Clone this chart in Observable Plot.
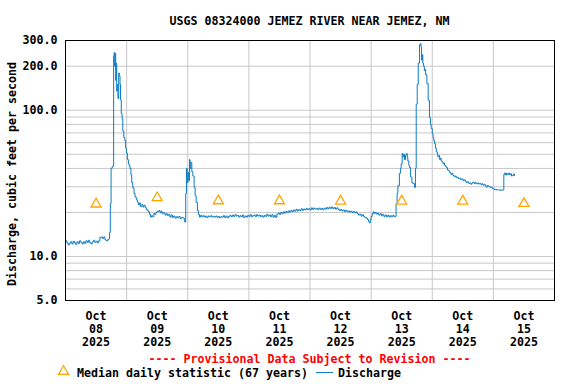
<!DOCTYPE html>
<html><head><meta charset="utf-8">
<script src="https://cdn.jsdelivr.net/npm/d3@7"></script>
<script src="https://cdn.jsdelivr.net/npm/@observablehq/plot@0.6"></script>
<style>
html,body{margin:0;padding:0;background:#fff;}
#chart svg{display:block;}
</style></head>
<body><div id="chart"></div>
<script>
// ---------- data ----------
const title = "USGS 08324000 JEMEZ RIVER NEAR JEMEZ, NM";
const yLabel = "Discharge, cubic feet per second";
const provisional = "---- Provisional Data Subject to Revision ----";
const legendMedian = "Median daily statistic (67 years)";
const legendFlow = "Discharge";
const monthLabel = "Oct";
const yearLabel = "2025";
const dayLabels = ["08", "09", "10", "11", "12", "13", "14", "15"];
const medianValues = [22.8, 25.2, 24.0, 24.0, 23.9, 23.9, 23.9, 23.0];
const yTicks = [5, 10, 100, 200, 300];
const yGrid = [6, 7, 8, 9, 10, 20, 30, 40, 50, 60, 70, 80, 90, 100, 200];

// hours since 2025-10-08 00:00, discharge in cfs
const hours = [
  0,0.5,1,1.5,2,2.5,3,3.5,4,4.5,5,5.5,6,6.5,7,7.5,8,8.5,9,9.5,10,10.5,11,11.5,12,12.5,13,13.5,14,14.5,15,15.5,16,16.5,17,
  17.3,17.6,17.9,18.3,18.7,18.9,19.1,19.3,19.5,19.7,19.9,20.1,20.3,20.6,20.9,21.1,21.4,21.6,
  21.9,22.2,22.5,22.9,23.3,23.6,23.9,24.3,24.7,25.0,25.3,25.7,26.0,26.4,26.9,27.3,27.8,28.2,28.6,29.0,29.5,30.0,30.4,30.8,31.3,31.7,32.1,32.5,33.0,33.4,33.8,34.2,34.7,35.1,35.5,35.9,36.3,36.7,37.1,37.5,37.9,38.3,38.7,39.1,39.5,40.0,40.5,
  41.0,41.5,42.0,42.5,43.0,43.5,44.0,44.5,45.0,45.5,46.0,46.5,46.8,
  47.2,47.5,47.8,48.1,48.4,48.7,48.9,49.2,49.6,50.0,50.5,50.9,51.3,51.8,
  52.2,52.6,53,53.5,54,54.5,55,55.5,56,56.5,57,57.5,58,58.5,59,59.5,60,60.5,61,61.5,62,62.5,63,63.5,64,64.5,65,65.5,66,66.5,67,67.5,68,68.5,69,69.5,70,70.5,71,71.5,72,72.5,73,73.5,74,74.5,75,75.5,76,76.5,77,77.5,78,78.5,79,79.5,80,80.5,
  81,81.5,82,82.5,83,83.5,84,84.5,85,85.5,86,86.5,87,87.5,88,88.5,89,89.5,90,90.5,91,91.5,92,92.5,93,93.5,94,94.5,95,95.5,96,96.5,97,97.5,98,98.5,99,99.5,100,100.5,101,101.5,102,102.5,103,103.5,104,104.5,105,105.5,106,106.5,107,107.5,108,108.5,109,109.5,110,110.5,111,111.5,112,112.5,113,113.5,114,114.5,115,115.5,116,116.5,117,117.5,118,118.5,119,119.3,119.7,120,120.4,120.8,121.2,121.6,122,122.5,123,123.5,124,124.5,125,125.5,126,126.5,127,127.5,128,128.5,129,129.5,
  129.8,130.2,130.5,131.1,131.5,131.8,132.2,132.5,132.8,133.1,133.5,133.8,134.2,134.4,134.8,135.1,135.5,136.0,136.4,137.0,137.4,137.7,138.1,138.5,139.0,139.3,139.6,139.8,140.1,140.3,140.6,140.9,141.2,141.4,141.9,142.4,142.9,143.3,143.6,144.0,144.3,144.6,144.9,145.3,145.6,146.0,146.2,146.6,146.9,147.2,147.5,147.9,148.2,148.5,148.8,149.2,149.5,150.0,150.4,150.8,151.3,151.7,152.1,152.6,153.0,153.4,153.9,154.3,154.7,155.2,155.6,156.1,156.5,157.0,157.4,157.8,158.3,158.7,159.2,159.6,160.0,160.5,160.9,161.3,161.8,162.2,162.6,163.1,163.5,163.9,164.4,164.8,165.2,165.6,166.0,166.4,166.8,167.2,167.6,168.0,168.4,168.8,169.2,169.6,170.0,170.4,170.8,171.2,171.6,171.9,
  172.1,172.4,172.8,173.1,173.5,173.9,174.3,174.7,175.1,175.5,175.9,176.3
];
const cfs = [
  12.8,12.4,12.0,12.3,12.6,12.2,12.7,12.4,12.1,12.6,12.3,12.8,12.5,12.2,12.6,12.3,12.8,12.5,12.9,12.4,12.2,12.6,12.9,12.5,12.7,12.4,12.8,13.5,13.6,13.3,13.6,13.0,12.8,13.0,13.2,
  14.6,23,40,41,42,235,248,200,245,160,210,135,150,120,180,172,150,118,
  95,88,72,65,62,55,51,46,43,42,40,36,32,29.5,27,25.5,24.5,23.5,22.5,23.2,22.0,22.6,21.8,22.4,21.6,21.0,20.6,20.2,19.4,18.6,19.0,18.7,19.7,19.4,20.0,20.4,20.2,20.6,20.0,20.4,19.6,20.0,19.8,19.2,19.6,19.0,19.4,
  18.6,19.2,18.5,18.9,18.3,18.7,18.4,18.8,18.2,18.5,18.4,18.2,17.2,
  27.0,40.0,32.0,37.5,33.0,46.0,40.0,44.0,38.0,35.5,29.7,26.0,23.4,20.6,
  19.4,18.6,19.1,18.7,19.0,18.6,18.9,18.5,18.9,18.7,19.0,18.6,18.8,18.6,18.9,18.5,18.8,18.4,18.7,18.6,19.0,18.5,18.9,18.4,18.8,19.1,18.7,19.2,18.8,19.3,18.9,19.1,18.6,19.0,18.7,19.2,18.5,18.9,18.6,19.1,18.8,19.3,18.7,19.0,19.2,18.8,19.3,18.9,19.2,18.7,19.0,18.6,19.1,18.8,19.4,18.9,19.2,18.7,
  19.3,18.6,19.1,18.5,19.5,19.8,19.4,20.0,19.6,20.2,19.8,20.3,20.0,20.5,20.1,20.6,20.3,20.8,20.4,21.0,20.5,20.9,20.6,21.2,20.7,21.1,20.8,21.3,20.9,21.2,20.8,21.5,21.0,21.4,21.1,21.3,20.9,21.4,21.0,21.3,20.9,21.4,21.1,21.6,21.2,21.7,21.3,21.8,21.2,21.6,21.1,21.5,21.0,20.6,21.0,20.5,20.8,20.3,20.7,20.2,20.5,20.1,20.4,20.0,20.3,19.9,20.2,19.6,19.2,19.5,18.9,19.3,18.8,18.5,18.3,17.9,17.3,17.0,17.8,18.8,19.6,20.2,19.7,20.0,19.5,19.8,19.2,19.6,19.0,19.4,18.8,19.2,18.7,19.1,18.6,19.0,18.7,19.1,18.7,18.8,
  23.0,27.0,30.5,37.0,40.0,43.0,50.6,48.0,50.0,46.0,49.0,50.5,48.0,45.0,42.0,40.6,35.0,32.0,31.5,29.7,40.0,110,150,210,280,285,270,220,240,210,200,187,190,175,152,117,89,80,75,69,65,62,59,55,52,50,48,49,46,47,45,44.5,43,43.5,42,41.5,40.5,39,38.5,37.6,36.5,37,35.8,35.2,35.5,34.6,34.8,34.0,34.3,33.5,33.9,33.0,33.4,32.6,32.0,32.4,31.6,31.8,31.2,31.9,32.2,31.5,32.0,31.4,31.8,31.3,31.6,31.0,31.4,30.8,31.2,30.4,29.8,30.6,30.2,30.0,29.6,29.8,29.2,29.0,28.6,28.8,28.5,28.6,28.6,28.4,28.5,28.4,28.5,28.5,
  36.5,37.2,36.0,37.0,36.3,37.1,36.2,36.8,35.5,35.8,36.6,35.8
];

// ---------- build ----------
const HOUR = 3600e3;
const start = Date.UTC(2025, 9, 8);
const flow = hours.map((h, i) => ({t: new Date(start + h * HOUR), v: cfs[i]}));
const med = medianValues.map((v, i) => ({t: new Date(start + (i * 24 + 12) * HOUR), v}));
const gridDays = d3.range(1, 8).map(d => new Date(start + d * 24 * HOUR));
const labelDays = dayLabels.map((d, i) => new Date(start + (i * 24 + 12) * HOUR));
const labelFor = d => `${monthLabel}\n${dayLabels[labelDays.findIndex(x => +x === +d)]}\n${yearLabel}`;

const W = 576, H = 384, mL = 65, mR = 22, mT = 40, mB = 84;
const FONT = "'DejaVu Sans Mono', monospace";
const FS = 11.63;
const BLUE = "#0b7cc6", ORANGE = "#ffa500";

const plot = Plot.plot({
  width: W, height: H,
  marginTop: mT, marginBottom: mB, marginLeft: mL, marginRight: mR,
  style: {fontFamily: FONT, fontSize: FS + "px", fontWeight: "bold", color: "#000", background: "#fff"},
  x: {type: "utc", domain: [new Date(start), new Date(start + 8 * 24 * HOUR)]},
  y: {type: "log", domain: [5, 300], axis: null},
  marks: [
    Plot.ruleY(yGrid, {stroke: "#c8c8c8", strokeWidth: 1}),
    Plot.ruleX(gridDays, {stroke: "#c8c8c8", strokeWidth: 1}),
    Plot.lineY(flow, {x: "t", y: "v", stroke: BLUE, strokeWidth: 1, curve: "step-after"}),
    Plot.dot(med, {x: "t", y: "v", symbol: "triangle", r: 3.7, stroke: ORANGE, strokeWidth: 1.3, fill: "none"}),
    Plot.frame({stroke: "#000", strokeWidth: 1}),
    Plot.text(yTicks, {y: d => d, text: d => d.toFixed(1), frameAnchor: "left", dx: -8, textAnchor: "end", fill: "#000"}),
    Plot.axisX(labelDays, {tickSize: 0, tickPadding: 10, tickFormat: labelFor, lineHeight: 13 / FS, label: null})
  ]
});
document.getElementById("chart").appendChild(plot);

const svg = d3.select(plot);
const cx = (mL + W - mR) / 2;
const txt = (x, y, s, color = "#000", anchor = "middle") =>
  svg.append("text").attr("x", x).attr("y", y).attr("text-anchor", anchor)
    .attr("fill", color).style("font-family", FONT).style("font-size", FS + "px")
    .style("font-weight", "bold").text(s);

txt(cx, 25, title);
txt(0, 0, yLabel).attr("transform", `translate(16,${(mT + H - mB) / 2 + 4}) rotate(-90)`);
txt(cx, 363, provisional, "#ff0000");
// legend
const lg = svg.append("g");
lg.append("path").attr("d", d3.symbol(d3.symbolTriangle, Math.PI * 3.7 * 3.7)())
  .attr("transform", "translate(63.5,371.5)").attr("fill", "none").attr("stroke", ORANGE).attr("stroke-width", 1.3);
txt(77, 377, legendMedian, "#000", "start");
lg.append("line").attr("x1", 316).attr("x2", 333).attr("y1", 372.5).attr("y2", 372.5)
  .attr("stroke", BLUE).attr("stroke-width", 1);
txt(338, 377, legendFlow, "#000", "start");
</script>
</body></html>
